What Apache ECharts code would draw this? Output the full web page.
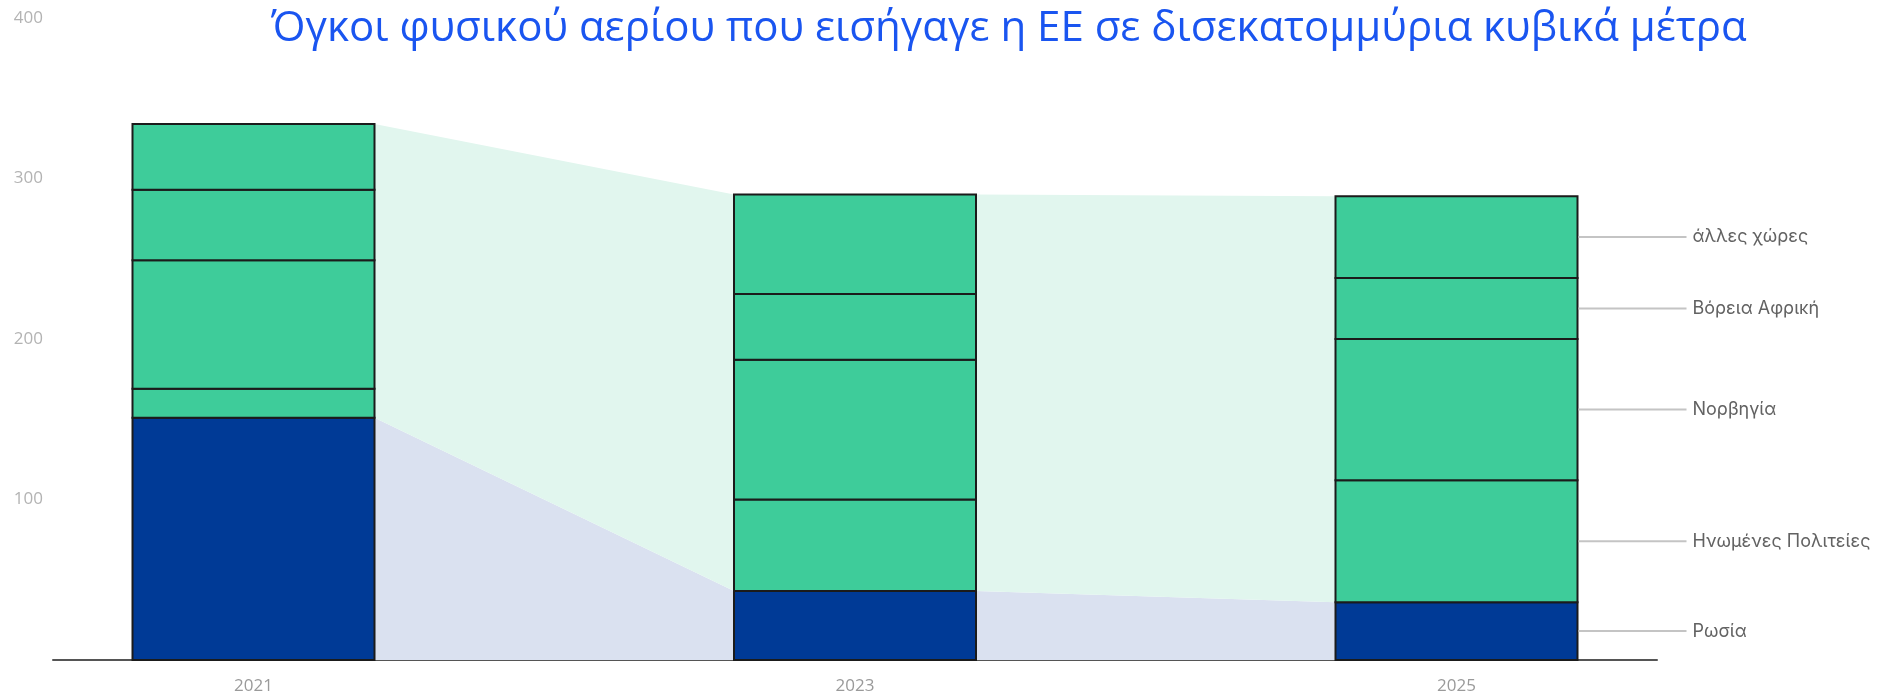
<!DOCTYPE html>
<html>
<head>
<meta charset="utf-8">
<script src="https://cdn.jsdelivr.net/npm/echarts@6/dist/echarts.min.js"></script>
<style>
html,body{margin:0;padding:0;background:#fff;}
#chart{width:1880px;height:694px;}
</style>
</head>
<body>
<div id="chart"></div>
<script>
// ---- data ----
const years = ['2021', '2023', '2025'];
const seriesNames = ['Ρωσία', 'Ηνωμένες Πολιτείες', 'Νορβηγία', 'Βόρεια Αφρική', 'άλλες χώρες'];
const russia = [151, 43, 36];
const usa = [18, 57, 76];
const norway = [80, 87, 88];
const northAfrica = [44, 41, 38];
const others = [41, 62, 51];
const yTicks = [0, 100, 200, 300, 400];
const titleText = 'Όγκοι φυσικού αερίου που εισήγαγε η ΕΕ σε δισεκατομμύρια κυβικά μέτρα';

// ---- styles ----
const BAR_W = 242;
const GREEN = '#3ecc9a';
const NAVY = '#003a96';
const FONT = '"Open Sans", "Noto Sans", sans-serif';

const seriesValues = [russia, usa, norway, northAfrica, others];
const totals = years.map((_, i) => seriesValues.reduce((s, arr) => s + arr[i], 0));

const chart = echarts.init(document.getElementById('chart'));

// stacked segments: [x, lower, upper, seriesIndex]
const segData = [];
years.forEach((_, i) => {
  let c = 0;
  seriesValues.forEach((arr, k) => {
    segData.push([i, c, c + arr[i], k]);
    c += arr[i];
  });
});

// band data between consecutive bars
const bandData = [];
for (let i = 0; i < years.length - 1; i++) {
  bandData.push([i, russia[i], totals[i], i + 1, russia[i + 1], totals[i + 1]]);
}

// label data for last bar
const last = years.length - 1;
const labelData = segData.filter(d => d[0] === last);

const option = {
  animation: false,
  backgroundColor: '#ffffff',
  title: {
    text: titleText,
    left: 266,
    top: 3,
    textStyle: {
      fontFamily: FONT,
      fontSize: 42,
      fontWeight: 'normal',
      color: '#1a55f0'
    }
  },
  grid: {
    left: 53,
    right: 223,
    top: 18,
    bottom: 34,
    outerBoundsMode: 'none'
  },
  xAxis: {
    type: 'value',
    min: -1 / 3,
    max: 7 / 3,
    splitLine: { show: false },
    axisTick: { show: false },
    axisLine: { show: true, onZero: false, lineStyle: { color: '#555555', width: 2 } },
    axisLabel: {
      customValues: years.map((_, i) => i),
      formatter: v => years[Math.round(v)],
      color: '#9a9a9a',
      fontFamily: FONT,
      fontSize: 17,
      margin: 18
    }
  },
  yAxis: {
    type: 'value',
    min: yTicks[0],
    max: yTicks[yTicks.length - 1],
    interval: 100,
    splitLine: { show: false },
    axisLine: { show: false },
    axisTick: { show: false },
    axisLabel: {
      showMinLabel: false,
      color: '#b3b3b3',
      fontFamily: FONT,
      fontSize: 17,
      margin: 10
    }
  },
  series: [
    {
      type: 'custom',
      z: 1,
      silent: true,
      data: bandData,
      renderItem: function (params, api) {
        const hw = BAR_W / 2;
        const x0 = api.value(0), r0 = api.value(1), t0 = api.value(2);
        const x1 = api.value(3), r1 = api.value(4), t1 = api.value(5);
        const b0 = api.coord([x0, 0]); const b1 = api.coord([x1, 0]);
        const pr0 = api.coord([x0, r0]); const pr1 = api.coord([x1, r1]);
        const pt0 = api.coord([x0, t0]); const pt1 = api.coord([x1, t1]);
        const L = b0[0] + hw, R = b1[0] - hw;
        return {
          type: 'group',
          children: [
            {
              type: 'polygon',
              shape: { points: [[L, b0[1]], [L, pr0[1]], [R, pr1[1]], [R, b1[1]]] },
              style: { fill: '#dae1f0' }
            },
            {
              type: 'polygon',
              shape: { points: [[L, pr0[1]], [L, pt0[1]], [R, pt1[1]], [R, pr1[1]]] },
              style: { fill: '#e1f6ee' }
            }
          ]
        };
      }
    },
    {
      type: 'custom',
      z: 3,
      silent: true,
      data: segData,
      renderItem: function (params, api) {
        const hw = BAR_W / 2;
        const x = api.value(0), lo = api.value(1), hi = api.value(2), k = api.value(3);
        const pl = api.coord([x, lo]);
        const ph = api.coord([x, hi]);
        return {
          type: 'rect',
          shape: { x: pl[0] - hw, y: ph[1], width: BAR_W, height: pl[1] - ph[1] },
          style: { fill: k === 0 ? NAVY : GREEN, stroke: '#1b1b1b', lineWidth: 2 }
        };
      }
    },
    {
      type: 'custom',
      z: 4,
      silent: true,
      data: labelData,
      renderItem: function (params, api) {
        const hw = BAR_W / 2;
        const x = api.value(0), lo = api.value(1), hi = api.value(2), k = api.value(3);
        const p = api.coord([x, (lo + hi) / 2]);
        const xs = p[0] + hw + 1;
        return {
          type: 'group',
          children: [
            {
              type: 'line',
              shape: { x1: xs, y1: p[1], x2: xs + 108, y2: p[1] },
              style: { stroke: '#c4c4c4', lineWidth: 2 }
            },
            {
              type: 'text',
              style: {
                x: xs + 114,
                y: p[1],
                text: seriesNames[k],
                fill: '#626262',
                font: '18px "Inter", "Noto Sans", sans-serif',
                textAlign: 'left',
                textVerticalAlign: 'middle'
              }
            }
          ]
        };
      }
    }
  ]
};

chart.setOption(option);
</script>
</body>
</html>
